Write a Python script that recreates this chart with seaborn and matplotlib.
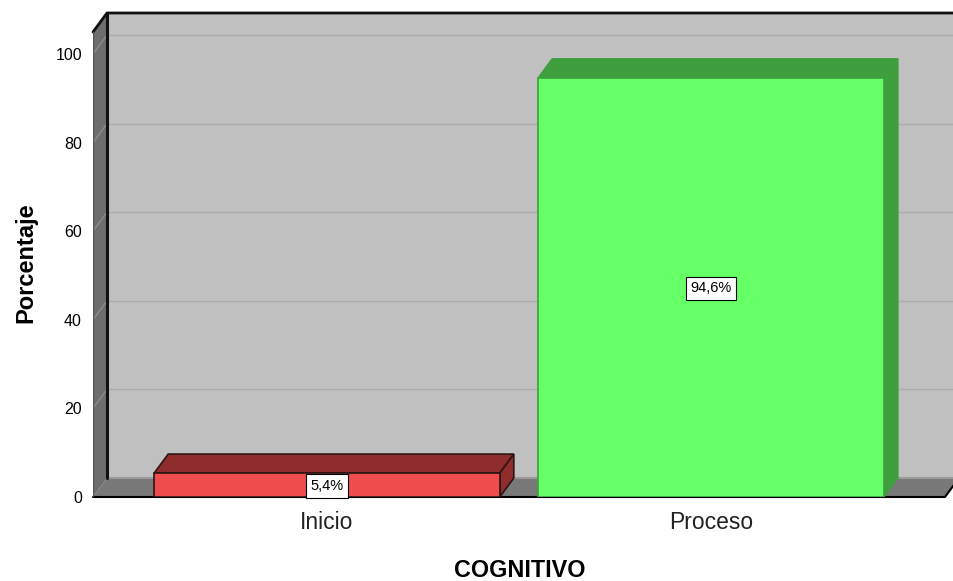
import matplotlib
matplotlib.use("Agg")
import matplotlib.pyplot as plt
import seaborn as sns
from matplotlib.patches import Polygon

categories = ["Inicio", "Proceso"]
percentages = [5.4, 94.6]
value_labels = ["5,4%", "94,6%"]
y_ticks = [0, 20, 40, 60, 80, 100]

front_colors = ["#ef4d4d", "#66ff66"]
shade_colors = ["#8f2c2c", "#3f9f3f"]
edge_colors = ["#2b1414", "#3f9f3f"]

sns.set_theme(style="white")
plt.rcParams["font.family"] = ["Liberation Sans", "DejaVu Sans"]

W, H = 954, 581
fig = plt.figure(figsize=(W / 100, H / 100), dpi=100)
ax = fig.add_axes([93 / W, 1 - 497 / H, 1 - 93 / W, (497 - 13) / H])

sns.barplot(x=categories, y=percentages, hue=categories, palette=front_colors,
            width=0.9, legend=False, saturation=1, ax=ax, zorder=5)

# px to data scale
px_x = 1 / 384
px_y = 1 / 4.43
ax.set_xlim(-234 * px_x, 1.0 + 243 * px_x)
ax.set_ylim(0, 484 * px_y)
x0, x1 = ax.get_xlim()
y1 = ax.get_ylim()[1]
dx = 14 * px_x
dy = 19 * px_y

# fake 3d box
ax.add_patch(Polygon([(x0 + dx, dy), (x1 + dx, dy), (x1 + dx, y1), (x0 + dx, y1)],
                     fc="#c0c0c0", ec="none", zorder=1))
for t in y_ticks[1:]:
    ax.plot([x0 + dx, x1], [t + dy, t + dy], color="#adadad", lw=1, zorder=2)
ax.add_patch(Polygon([(x0, 0), (x1 - 9 * px_x, 0), (x1 + 5 * px_x, dy), (x0 + dx, dy)],
                     fc="#787878", ec="none", zorder=3))
ax.plot([x0 + dx, x1], [dy, dy], color="#9a9a9a", lw=1.5, zorder=3)
ax.plot([x0, x1 - 9 * px_x, x1 + 5 * px_x], [0, 0, dy], color="black", lw=1.5, zorder=4, clip_on=False)
ax.add_patch(Polygon([(x0, 0), (x0 + dx, dy), (x0 + dx, y1), (x0, y1 - dy)],
                     fc="#6e6e6e", ec="none", zorder=3))
for t in y_ticks[1:]:
    ax.plot([x0, x0 + dx], [t, t + dy], color="#8c8c8c", lw=1, zorder=3)
ax.plot([x0 + dx, x0 + dx], [dy, y1], color="#111111", lw=2.2, zorder=4)
ax.plot([x0, x0 + dx, x1], [y1 - dy, y1, y1], color="#111111", lw=2, zorder=4, clip_on=False)
ax.plot([x0, x0], [0, y1 - dy], color="#555555", lw=1, zorder=4)

for bar, shade, edge, lab in zip(ax.patches, shade_colors, edge_colors, value_labels):
    left, w, h = bar.get_x(), bar.get_width(), bar.get_height()
    bar.set_edgecolor(edge)
    bar.set_linewidth(1.2)
    ax.add_patch(Polygon([(left, h), (left + dx, h + dy), (left + w + dx, h + dy), (left + w, h)],
                         fc=shade, ec=edge, lw=1.2, zorder=4))
    ax.add_patch(Polygon([(left + w, 0), (left + w + dx, dy), (left + w + dx, h + dy), (left + w, h)],
                         fc=shade, ec=edge, lw=1.2, zorder=4))
    ax.annotate(lab, (left + w / 2, h / 2), xytext=(0, -1), textcoords="offset pixels",
                ha="center", va="center", fontsize=10.5, color="black", zorder=7, annotation_clip=False,
                bbox=dict(boxstyle="square,pad=0.32", fc="white", ec="black", lw=0.8))

sns.despine(ax=ax, left=True, bottom=True, right=True, top=True)
ax.patch.set_visible(False)
ax.set_yticks(y_ticks)
ax.tick_params(axis="y", length=0, pad=8, labelsize=11.5, labelcolor="black")
ax.tick_params(axis="x", length=0, pad=10, labelsize=16.5, labelcolor="#222222")
ax.set_ylabel("Porcentaje", fontsize=17, fontweight="bold", color="black")
ax.set_xlabel("COGNITIVO", fontsize=16.8, fontweight="bold", color="black")
ax.yaxis.set_label_coords(-56 / (W - 93), (497 - 263) / 484)
ax.xaxis.set_label_coords((520 - 93) / (W - 93), -62 / 484)

plt.savefig("out.png", dpi=100)
